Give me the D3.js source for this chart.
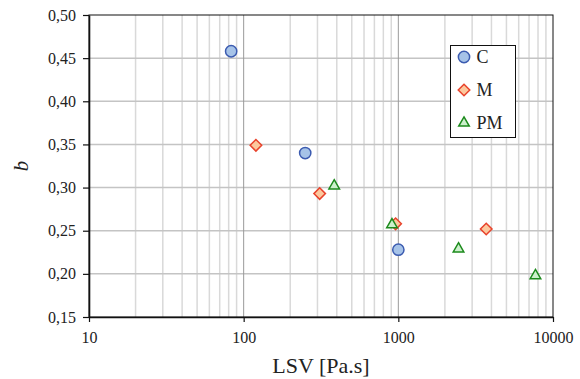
<!DOCTYPE html>
<html>
<head>
<meta charset="utf-8">
<script src="https://cdn.jsdelivr.net/npm/d3@7"></script>
<style>
  body { margin: 0; background: #fff; }
  svg text { font-family: "Liberation Serif", "DejaVu Serif", serif; fill: #222; }
</style>
</head>
<body>
<script>
// data
const seriesNames = ["C", "M", "PM"];
const cLsv = [83, 250, 1000];
const cB = [0.458, 0.340, 0.228];
const mLsv = [120, 310, 960, 3700];
const mB = [0.349, 0.293, 0.258, 0.252];
const pmLsv = [385, 910, 2450, 7700];
const pmB = [0.302, 0.257, 0.229, 0.198];
const xTicks = [10, 100, 1000, 10000];
const yTicks = [0.15, 0.20, 0.25, 0.30, 0.35, 0.40, 0.45, 0.50];

var width = 580, height = 379;
var margin = {top: 15, right: 27, bottom: 62, left: 89};

const svg = d3.select("body").append("svg")
    .attr("width", width)
    .attr("height", height);

const x = d3.scaleLog()
    .domain([10, 10000])
    .range([margin.left, width - margin.right]);

const y = d3.scaleLinear()
    .domain([0.15, 0.50])
    .range([height - margin.bottom, margin.top]);

// minor vertical grid
let minor = [];
for (let d = 10; d < 10000; d *= 10) {
    for (let k = 2; k <= 9; k++) minor.push(d * k);
}
svg.append("g").selectAll("line").data(minor).enter().append("line")
    .attr("x1", d => x(d)).attr("x2", d => x(d))
    .attr("y1", y(0.15)).attr("y2", y(0.5))
    .attr("stroke", "#d9d9d9").attr("stroke-width", 1.5);

// horizontal grid
svg.append("g").selectAll("line").data(yTicks.slice(1, -1)).enter().append("line")
    .attr("x1", x(10)).attr("x2", x(10000))
    .attr("y1", d => y(d)).attr("y2", d => y(d))
    .attr("stroke", "#c4c4c4").attr("stroke-width", 1.5);

// major vertical grid
svg.append("g").selectAll("line").data([100, 1000]).enter().append("line")
    .attr("x1", d => x(d)).attr("x2", d => x(d))
    .attr("y1", y(0.15)).attr("y2", y(0.5))
    .attr("stroke", "#9a9a9a").attr("stroke-width", 1);

// frame
svg.append("rect")
    .attr("x", x(10)).attr("y", y(0.5))
    .attr("width", x(10000) - x(10)).attr("height", y(0.15) - y(0.5))
    .attr("fill", "none").attr("stroke", "#111").attr("stroke-width", 1);

// axes
const xAxis = svg.append("g")
    .attr("transform", `translate(0,${y(0.15)})`)
    .call(d3.axisBottom(x).tickValues(xTicks).tickFormat(d3.format("d")).tickSize(5).tickSizeOuter(0));
const yAxis = svg.append("g")
    .attr("transform", `translate(${x(10)},0)`)
    .call(d3.axisLeft(y).tickValues(yTicks).tickFormat(d => d3.format(".2f")(d).replace(".", ",")).tickSize(6).tickSizeOuter(0));

[xAxis, yAxis].forEach(a => {
    a.attr("font-family", null).attr("font-size", null);
    a.select(".domain").attr("stroke", "#111").attr("stroke-width", 1.6);
    a.selectAll(".tick line").attr("stroke", "#111").attr("stroke-width", 1.2);
    a.selectAll(".tick text")
        .style("font-size", "16px")
        .attr("fill", "#222");
});
xAxis.selectAll(".tick text").attr("dy", "1.1em");
yAxis.selectAll(".tick text").attr("x", -13);

// axis titles
svg.append("text")
    .attr("x", (x(10) + x(10000)) / 2)
    .attr("y", 373)
    .attr("text-anchor", "middle")
    .style("font-size", "22px")
    .text("LSV [Pa.s]");

svg.append("text")
    .attr("transform", `translate(28,${(y(0.5) + y(0.15)) / 2}) rotate(-90)`)
    .attr("text-anchor", "middle")
    .style("font-size", "21px")
    .style("font-style", "italic")
    .text("b");

// markers
const styles = {
    C: {shape: d3.symbolCircle, size: 100, fill: "#a6c3e8", stroke: "#3b5bb0"},
    M: {shape: d3.symbolDiamond2, size: 85, fill: "#fcc89e", stroke: "#e8432c"},
    PM: {shape: d3.symbolTriangle2, size: 80, fill: "#ccf0cc", stroke: "#1c8a1c"}
};

const series = [
    {name: "C", xs: cLsv, ys: cB},
    {name: "M", xs: mLsv, ys: mB},
    {name: "PM", xs: pmLsv, ys: pmB}
];

series.forEach(s => {
    const st = styles[s.name];
    svg.append("g").selectAll("path")
        .data(s.xs.map((v, i) => [v, s.ys[i]]))
        .enter().append("path")
        .attr("d", d3.symbol().type(st.shape).size(st.size))
        .attr("transform", d => `translate(${x(d[0])},${y(d[1])})`)
        .attr("fill", st.fill)
        .attr("stroke", st.stroke)
        .attr("stroke-width", 1.5);
});

// legend
const legend = svg.append("g");
legend.append("rect")
    .attr("x", 450.5).attr("y", 45.5)
    .attr("width", 65).attr("height", 92)
    .attr("fill", "#fff").attr("stroke", "#111").attr("stroke-width", 1);

seriesNames.forEach((n, i) => {
    const st = styles[n];
    const ly = 57 + i * 33;
    legend.append("path")
        .attr("d", d3.symbol().type(st.shape).size(st.size))
        .attr("transform", `translate(464,${ly})`)
        .attr("fill", st.fill)
        .attr("stroke", st.stroke)
        .attr("stroke-width", 1.5);
    legend.append("text")
        .attr("x", 476.5)
        .attr("y", ly + 6)
        .style("font-size", "18px")
        .text(n);
});
</script>
</body>
</html>
